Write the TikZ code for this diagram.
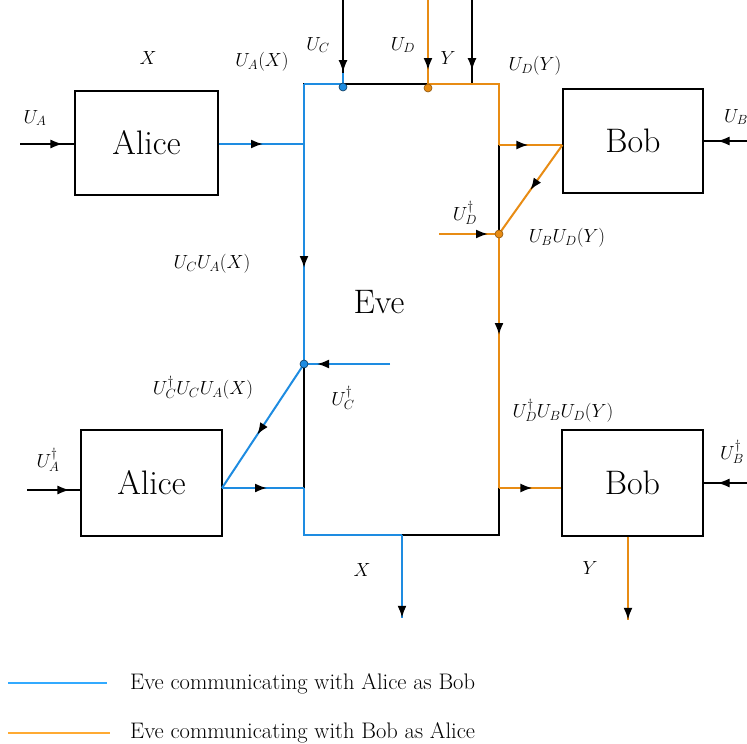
\RequirePackage{fix-cm}
\documentclass[tikz,border=0pt]{standalone}
\usetikzlibrary{arrows.meta,decorations.markings,calc}
\definecolor{eblue}{RGB}{30,140,225}
\definecolor{eorange}{RGB}{232,140,20}
\definecolor{lblue}{RGB}{50,170,255}
\definecolor{lorange}{RGB}{255,170,50}
\tikzset{
  party/.style={draw=black, line width=1.2pt, inner sep=0pt, font=\fontsize{34}{40}\selectfont},
  lbl/.style={inner sep=0pt, font=\fontsize{19}{22}\selectfont},
  bluel/.style={draw=eblue, line width=2pt},
  orangel/.style={draw=eorange, line width=2pt},
  blk/.style={draw=black, line width=1.2pt},
  tipat/.style={postaction={decorate,decoration={markings,mark=at position #1 with {\arrow[black]{Latex[length=12pt,width=9pt]}}}}},
  bdot/.style={circle, fill=eblue, draw=black!60!eblue, line width=0.6pt, minimum size=8pt, inner sep=0pt},
  odot/.style={circle, fill=eorange, draw=black!40!eorange, line width=0.6pt, minimum size=8pt, inner sep=0pt},
  legtext/.style={anchor=west, inner sep=0pt, font=\fontsize{22.5}{26}\selectfont}
}
\begin{document}
\begin{tikzpicture}[x=1pt,y=-1pt]
\useasboundingbox (0,0) rectangle (747,744);
\fill[white] (0,0) rectangle (747,744);

% boxes
\node[draw=black, line width=2pt, minimum width=195pt, minimum height=451pt, inner sep=0pt] (eve) at (401.5,309.5) {};
\node[inner sep=0pt, font=\fontsize{34}{40}\selectfont] (evelbl) at (379,302) {Eve};
\node[party, minimum width=143pt, minimum height=104pt] (a1) at (146.5,143) {Alice};
\node[party, minimum width=141pt, minimum height=106pt] (a2) at (151.5,483) {Alice};
\node[party, minimum width=140pt, minimum height=104pt] (b1) at (633,141) {Bob};
\node[party, minimum width=141pt, minimum height=106pt] (b2) at (632.5,483) {Bob};

% junction coordinates
\coordinate (eTL) at (304,84);
\coordinate (eTR) at (499,84);
\coordinate (eL1) at (304,144);
\coordinate (eL2) at (304,488);
\coordinate (eR1) at (499,145);
\coordinate (eR2) at (499,488);
\coordinate (eBL) at (304,535);
\coordinate (eBx) at (402,535);
\coordinate (a2p) at (222,488);
\coordinate (xout) at (402,618);
\coordinate (yout) at (628,620);
\coordinate (uCtop) at (343,0);
\coordinate (uDtop) at (428,0);
\coordinate (ytop) at (472,0);
\coordinate (uCdfree) at (390,364);
\coordinate (uDdfree) at (439,234);
\coordinate (uAin) at (20,144);
\coordinate (uAdin) at (27,490);
\coordinate (uBin) at (747,141);
\coordinate (uBdin) at (747,483);

% black inputs
\draw[blk, tipat=-12pt] (uAin) -- (a1.west |- uAin);
\draw[blk, tipat=-11pt] (uAdin) -- (a2.west |- uAdin);
\draw[blk, tipat=-14pt] (uBin) -- (b1.east |- uBin);
\draw[blk, tipat=-14pt] (uBdin) -- (b2.east |- uBdin);
\draw[blk, tipat=-14pt] (ytop) -- (ytop |- eTR);
\draw[blk, tipat=-15pt] (uCtop) -- (343,87);

% blue paths
\draw[bluel] (343,73) -- (343,84);
\draw[bluel, tipat=-41pt] (a1.east |- eL1) -- (eL1);
\draw[bluel] (343,84) -- (eTL);
\draw[bluel, tipat=-96pt] (eTL) -- (304,364);
\draw[bluel, tipat=-13pt] (uCdfree) -- (304,364);
\draw[bluel, tipat=0.57] (304,364) -- (a2p);
\draw[bluel, tipat=-37pt] (a2p) -- (eL2);
\draw[bluel] (eL2) -- (eBL) -- (eBx);
\draw[bluel, tipat=-0.2pt] (eBx) -- (xout);

% orange paths
\draw[orangel, tipat=-18pt] (uDtop) -- (428,88);
\draw[orangel] (428,84) -- (eTR) -- (eR1);
\draw[orangel, tipat=-34pt] (eR1) -- (b1.west |- eR1);
\draw[orangel, tipat=-54pt] (b1.west |- eR1) -- (499,234);
\draw[orangel, tipat=-11pt] (uDdfree) -- (499,234);
\draw[orangel, tipat=-153pt] (499,234) -- (eR2);
\draw[orangel, tipat=-29pt] (eR2) -- (b2.west |- eR2);
\draw[orangel, tipat=-0.2pt] (b2.south -| yout) -- (yout);

% dots
\node[bdot] (dC) at (343,87) {};
\node[bdot] (dCd) at (304,364) {};
\node[odot] (dD) at (428,88) {};
\node[odot] (dDd) at (499,234) {};

% labels
\node[lbl] (lX1) at (148,58) {$X$};
\node[lbl] (lUAX) at (262,62) {$U_A(X)$};
\node[lbl] (lUC) at (318,45) {$U_C$};
\node[lbl] (lUA) at (35,118) {$U_A$};
\node[lbl] (lUCUAX) at (212,264) {$U_CU_A(X)$};
\node[lbl] (lUD) at (403,45) {$U_D$};
\node[lbl] (lY1) at (448,58) {$Y$};
\node[lbl] (lUDY) at (535,66) {$U_D(Y)$};
\node[lbl, anchor=west] (lUB) at (724,117) {$U_B$};
\node[lbl] (lUDd) at (465,213) {$U_D^\dagger$};
\node[lbl] (lUBUDY) at (567,238) {$U_BU_D(Y)$};
\node[lbl] (lUCdUCUAX) at (203,388) {$U_C^\dagger U_CU_A(X)$};
\node[lbl] (lUCd) at (343,398) {$U_C^\dagger$};
\node[lbl] (lUAd) at (48,460) {$U_A^\dagger$};
\node[lbl] (lX2) at (362,570) {$X$};
\node[lbl] (lUDdUBUDY) at (563,411) {$U_D^\dagger U_BU_D(Y)$};
\node[lbl, anchor=west] (lUBd) at (720,452) {$U_B^\dagger$};
\node[lbl] (lY2) at (590,568) {$Y$};

% legend
\coordinate (lg1a) at (8,683);
\coordinate (lg1b) at (107,683);
\coordinate (lg2a) at (8,733);
\coordinate (lg2b) at (110,733);
\draw[lblue, line width=2pt] (lg1a) -- (lg1b);
\draw[lorange, line width=2pt] (lg2a) -- (lg2b);
\node[legtext] (leg1) at (130,684) {Eve communicating with Alice as Bob};
\node[legtext] (leg2) at (130,733) {Eve communicating with Bob as Alice};
\end{tikzpicture}
\end{document}
